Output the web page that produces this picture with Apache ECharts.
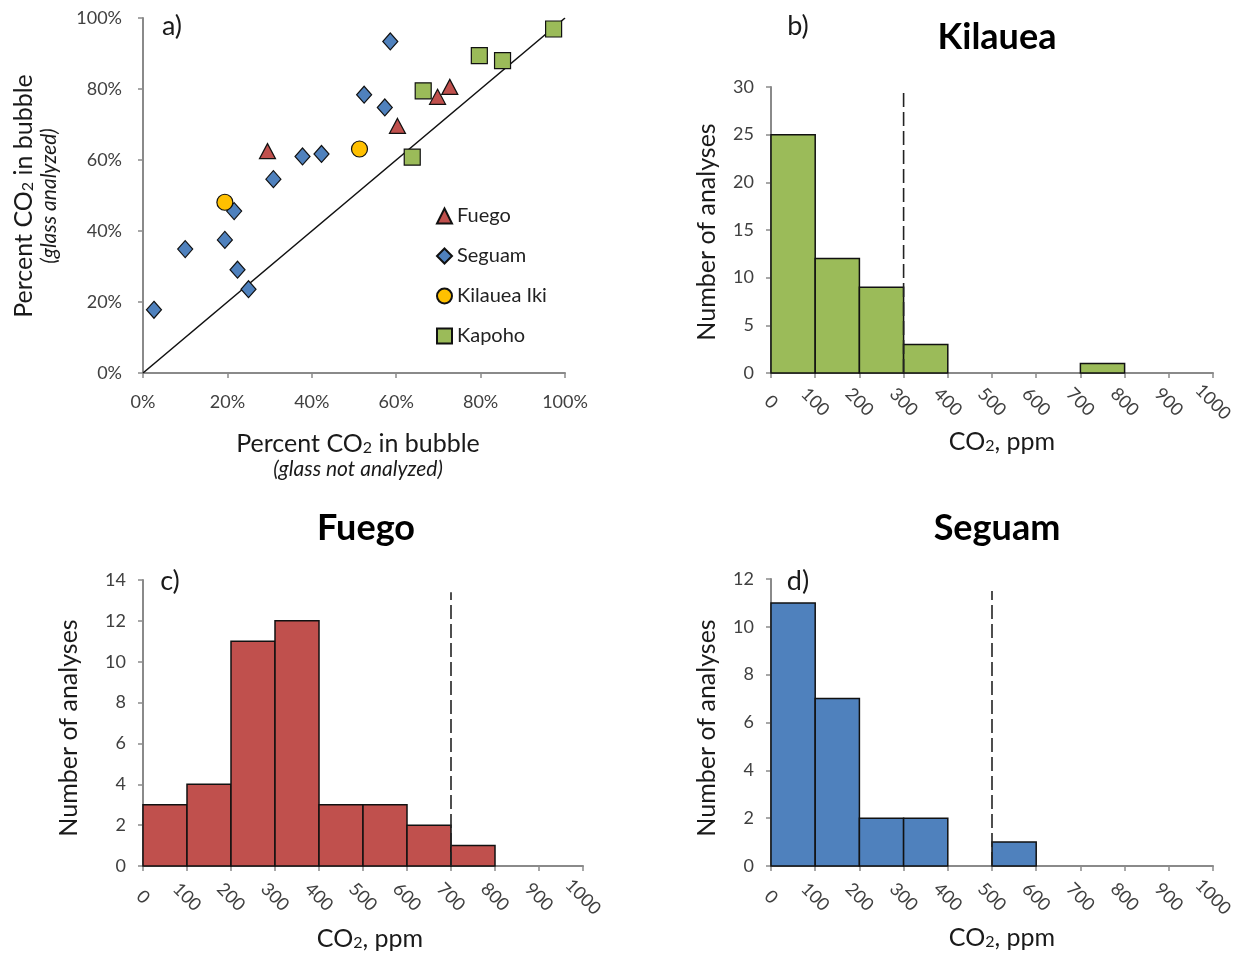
<!DOCTYPE html>
<html>
<head>
<meta charset="utf-8">
<script src="https://cdn.jsdelivr.net/npm/echarts@6/dist/echarts.min.js"></script>
<style>
html,body{margin:0;padding:0;background:#fff;}
#chart{width:1244px;height:953px;}
</style>
</head>
<body>
<div id="chart"></div>
<script>
// ---- Panel a data: [% CO2 glass not analyzed, % CO2 glass analyzed]
const fuegoPts = [[29.5,62.5],[60.3,69.6],[69.8,77.8],[72.7,80.6]];
const seguamPts = [[2.6,17.8],[10.0,34.9],[19.4,37.5],[21.6,45.6],[22.4,29.1],[25.0,23.6],[30.9,54.6],[37.8,61.0],[42.3,61.7],[52.4,78.4],[57.3,74.8],[58.6,93.4]];
const kilaueaIkiPts = [[19.4,48.1],[51.3,63.1]];
const kapohoPts = [[63.8,60.8],[66.4,79.5],[79.7,89.4],[85.2,88.0],[97.3,96.9]];
const oneToOne = [[0,0],[100,100]];

// ---- Histogram data (bins of 100 ppm from 0 to 1000)
const binEdges = [0,100,200,300,400,500,600,700,800,900,1000];
const kilaueaCounts = [25,12,9,3,0,0,0,1,0,0];
const fuegoCounts = [3,4,11,12,3,3,2,1,0,0];
const seguamCounts = [11,7,2,2,0,1,0,0,0,0];
// dashed cutoff lines: [x, top]
const kilaueaCutoff = [300, 29.8];
const fuegoCutoff = [700, 13.4];
const seguamCutoff = [500, 11.5];

const FONT = 'Lato';
const AXIS_GRAY = '#8a8a8a';
const TICK_COL = '#404040';

function bins(counts){
  const out = [];
  counts.forEach((c,i)=>{ out.push([binEdges[i], binEdges[i+1], c]); });
  return out;
}

function histSeries(idx, counts, color, cutoff){
  return [{
    type:'custom', xAxisIndex:idx, yAxisIndex:idx,
    data: bins(counts),
    encode:{x:[0,1], y:2},
    renderItem: function(params, api){
      const c = api.value(2);
      if(!c) return null;
      const p1 = api.coord([api.value(0), c]);
      const p2 = api.coord([api.value(1), 0]);
      return {type:'rect', shape:{x:p1[0], y:p1[1], width:p2[0]-p1[0], height:p2[1]-p1[1]},
        style:{fill:color, stroke:'#111', lineWidth:1.5}};
    },
    silent:true
  },{
    type:'line', xAxisIndex:idx, yAxisIndex:idx,
    data:[[cutoff[0],0],[cutoff[0],cutoff[1]]],
    symbol:'none', lineStyle:{color:'#222', width:1.6, type:[14,5]},
    silent:true, z:5
  }];
}

function histX(idx, margin){
  return {gridIndex:idx, type:'value', min:0, max:1000, interval:100,
    axisLine:{show:true, onZero:false, lineStyle:{color:AXIS_GRAY, width:2}},
    axisTick:{show:true, length:5, lineStyle:{color:AXIS_GRAY, width:1.5}},
    splitLine:{show:false},
    axisLabel:{rotate:-45, align:'center', verticalAlign:'middle', margin:margin, fontFamily:FONT, fontSize:18, color:TICK_COL,
      formatter:function(v){ return String(v); }}
  };
}
function histY(idx, max, interval){
  return {gridIndex:idx, type:'value', min:0, max:max, interval:interval,
    axisLine:{show:true, lineStyle:{color:AXIS_GRAY, width:2}},
    axisTick:{show:true, length:5, lineStyle:{color:AXIS_GRAY, width:1.5}},
    splitLine:{show:false},
    axisLabel:{margin:17, fontFamily:FONT, fontSize:18, color:TICK_COL}
  };
}

const rich = {
  a:{fontFamily:FONT, fontSize:25, color:'#1a1a1a', verticalAlign:'bottom', lineHeight:28},
  s:{fontFamily:FONT, fontSize:16, color:'#1a1a1a', verticalAlign:'bottom', lineHeight:5},
  i:{fontFamily:FONT, fontSize:21, fontStyle:'italic', color:'#1a1a1a', lineHeight:26}
};

function txt(x, y, text, opts){
  return Object.assign({type:'text', x:x, y:y, style:Object.assign({text:text, align:'center', verticalAlign:'middle', fontFamily:FONT, fill:'#1a1a1a'}, opts && opts.style || {})}, opts && opts.el || {});
}

const chart = echarts.init(document.getElementById('chart'), null, {renderer:'canvas'});
const option = {
  backgroundColor:'#fff',
  animation:false,
  grid:[
    {left:143, top:18, width:422, height:355},
    {left:771, top:87, width:442, height:286},
    {left:143, top:580, width:440, height:286},
    {left:771, top:579, width:442, height:287}
  ],
  xAxis:[
    {gridIndex:0, type:'value', min:0, max:100, interval:20,
      axisLine:{show:true, onZero:false, lineStyle:{color:AXIS_GRAY, width:2}},
      axisTick:{show:true, length:5, lineStyle:{color:AXIS_GRAY, width:1.5}},
      splitLine:{show:false},
      axisLabel:{formatter:'{value}%', margin:20, fontFamily:FONT, fontSize:18, color:TICK_COL}},
    histX(1, 29), histX(2, 31), histX(3, 31)
  ],
  yAxis:[
    {gridIndex:0, type:'value', min:0, max:100, interval:20,
      axisLine:{show:true, onZero:false, lineStyle:{color:AXIS_GRAY, width:2}},
      axisTick:{show:true, length:5, lineStyle:{color:AXIS_GRAY, width:1.5}},
      splitLine:{show:false},
      axisLabel:{formatter:'{value}%', margin:21, fontFamily:FONT, fontSize:18, color:TICK_COL}},
    histY(1, 30, 5), histY(2, 14, 2), histY(3, 12, 2)
  ],
  legend:{
    orient:'vertical', left:431, top:201, itemGap:20, itemWidth:15, itemHeight:15,
    textStyle:{fontFamily:FONT, fontSize:20, color:'#222'},
    data:['Fuego','Seguam','Kilauea Iki','Kapoho']
  },
  series:[
    {type:'line', xAxisIndex:0, yAxisIndex:0, data:oneToOne, symbol:'none', lineStyle:{color:'#111', width:1.6}, silent:true, z:1},
    {name:'Seguam', type:'scatter', xAxisIndex:0, yAxisIndex:0, data:seguamPts, symbol:'diamond', symbolSize:[15,17],
      itemStyle:{color:'#4F81BD', borderColor:'#111', borderWidth:1.2, opacity:1}, z:3},
    {name:'Kilauea Iki', type:'scatter', xAxisIndex:0, yAxisIndex:0, data:kilaueaIkiPts, symbol:'circle', symbolSize:16,
      itemStyle:{color:'#FFC000', borderColor:'#111', borderWidth:1.2, opacity:1}, z:3},
    {name:'Fuego', type:'scatter', xAxisIndex:0, yAxisIndex:0, data:fuegoPts, symbol:'triangle', symbolSize:[16,15],
      itemStyle:{color:'#C0504D', borderColor:'#111', borderWidth:1.2, opacity:1}, z:3},
    {name:'Kapoho', type:'scatter', xAxisIndex:0, yAxisIndex:0, data:kapohoPts, symbol:'rect', symbolSize:16,
      itemStyle:{color:'#9BBB59', borderColor:'#111', borderWidth:1.2, opacity:1}, z:3}
  ]
  .concat(histSeries(1, kilaueaCounts, '#9BBB59', kilaueaCutoff))
  .concat(histSeries(2, fuegoCounts, '#C0504D', fuegoCutoff))
  .concat(histSeries(3, seguamCounts, '#4F81BD', seguamCutoff)),
  graphic:[
    // panel labels
    txt(172, 26, 'a)', {style:{fontSize:27}}),
    txt(798, 26, 'b)', {style:{fontSize:27}}),
    txt(170, 581, 'c)', {style:{fontSize:27}}),
    txt(798, 581, 'd)', {style:{fontSize:27}}),
    // titles
    txt(997, 37, 'Kilauea', {style:{fontSize:36, fontWeight:'bold', fill:'#000'}}),
    txt(366, 528, 'Fuego', {style:{fontSize:36, fontWeight:'bold', fill:'#000'}}),
    txt(997, 528, 'Seguam', {style:{fontSize:36, fontWeight:'bold', fill:'#000'}}),
    // panel a axis names
    txt(358, 455, '{a|Percent CO}{s|2}{a| in bubble}\n{i|(glass not analyzed)}', {style:{rich:rich}}),
    txt(35, 196, '{a|Percent CO}{s|2}{a| in bubble}\n{i|(glass analyzed)}', {style:{rich:rich}, el:{rotation:Math.PI/2}}),
    // histogram axis names
    txt(1002, 440, '{a|CO}{s|2}{a|, ppm}', {style:{rich:rich}}),
    txt(370, 937, '{a|CO}{s|2}{a|, ppm}', {style:{rich:rich}}),
    txt(1002, 936, '{a|CO}{s|2}{a|, ppm}', {style:{rich:rich}}),
    txt(707, 232, 'Number of analyses', {style:{fontSize:25}, el:{rotation:Math.PI/2}}),
    txt(69, 728, 'Number of analyses', {style:{fontSize:25}, el:{rotation:Math.PI/2}}),
    txt(707, 728, 'Number of analyses', {style:{fontSize:25}, el:{rotation:Math.PI/2}})
  ]
};
chart.setOption(option);
</script>
</body>
</html>
